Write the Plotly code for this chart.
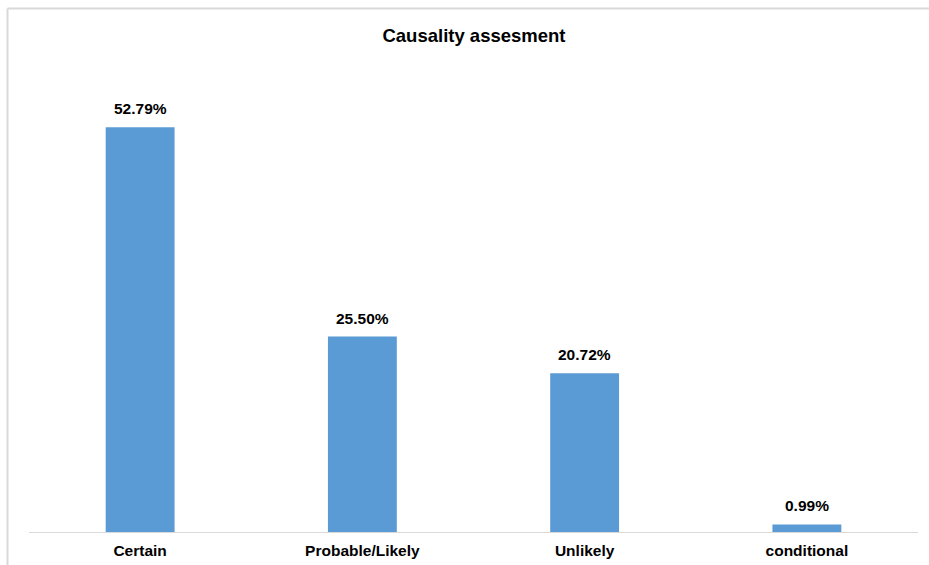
import plotly.graph_objects as go

# Causality assessment shares (%)
categories = ["Certain", "Probable/Likely", "Unlikely", "conditional"]
shares = [52.79, 25.50, 20.72, 0.99]
labels = [f"{v:.2f}%" for v in shares]

W, H = 929, 565
ML, MR, MT, MB = 29, 11, 72, 33
PW, PH = W - ML - MR, H - MT - MB

def px_x(x):
    return (x - ML) / PW

def px_y(y):
    return (H - MB - y) / PH

FONT = "Liberation Sans, Arial, sans-serif"

fig = go.Figure(
    go.Bar(
        x=categories,
        y=shares,
        marker=dict(color="#5B9BD5", line=dict(width=0)),
        width=0.31,
        hoverinfo="skip",
    )
)

for c, v, t in zip(categories, shares, labels):
    fig.add_annotation(
        x=c, y=v, text=f"<b>{t}</b>", showarrow=False,
        yanchor="middle", yshift=18.5,
        font=dict(family=FONT, size=15.5, color="#000000"),
    )

# Chart border (light grey frame)
border = dict(color="#d9d9d9", width=2)
fig.add_shape(type="line", xref="paper", yref="paper",
              x0=px_x(7.5), x1=px_x(W + 5), y0=px_y(8.5), y1=px_y(8.5), line=border)
fig.add_shape(type="line", xref="paper", yref="paper",
              x0=px_x(7.5), x1=px_x(7.5), y0=px_y(8.5), y1=px_y(H + 5), line=border)

fig.update_layout(
    width=W, height=H,
    margin=dict(l=ML, r=MR, t=MT, b=MB, pad=0, autoexpand=False),
    paper_bgcolor="white", plot_bgcolor="white",
    showlegend=False,
    title=dict(
        text="<b>Causality assesment</b>",
        x=474 / W, xanchor="center", xref="container",
        y=1 - 36 / H, yanchor="middle", yref="container",
        font=dict(family=FONT, size=18.5, color="#000000"),
    ),
    xaxis=dict(
        showline=True, linecolor="#d9d9d9", linewidth=1,
        showgrid=False, zeroline=False, ticks="", automargin=False,
        tickfont=dict(family=FONT, size=15.5, color="#000000"),
        ticklabelstandoff=4,
        tickvals=categories, ticktext=[f"<b>{c}</b>" for c in categories],
    ),
    yaxis=dict(
        range=[0, 60], visible=False, showgrid=False, zeroline=False,
        automargin=False,
    ),
)

fig.write_html("out.html")
